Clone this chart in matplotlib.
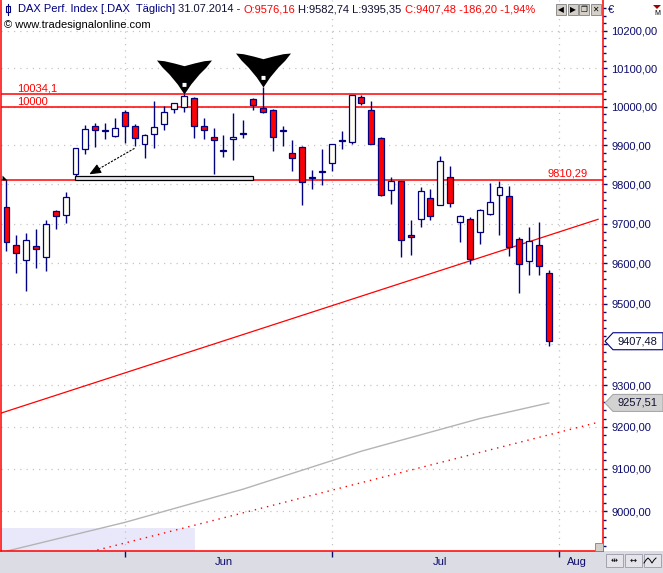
import matplotlib
matplotlib.use('Agg')
import matplotlib.pyplot as plt
import numpy as np
import pandas as pd
from matplotlib.patches import Rectangle, Polygon
from matplotlib.path import Path
from matplotlib.lines import Line2D
from matplotlib.ticker import FixedLocator, FuncFormatter, NullFormatter

W, H = 663, 573

# DAX daily candles, 15.05.2014 - 31.07.2014
dates = pd.bdate_range('2014-05-15', '2014-07-31')
opens = [9742, 9646, 9608, 9643, 9615, 9731, 9721, 9825, 9891, 9949, 9939, 9925, 9985, 9949,
         9903, 9928, 9954, 9993, 9999, 10022, 9949, 9921, 9887, 9916, 9932, 10019, 9997, 9991,
         9940, 9881, 9895, 9818, 9831, 9854, 9913, 9909, 10026, 9991, 9918, 9786, 9808, 9671,
         9711, 9764, 9747, 9818, 9704, 9711, 9680, 9725, 9772, 9770, 9661, 9606, 9646, 9576.16]
highs = [9811, 9671, 9677, 9686, 9709, 9735, 9780, 9893, 9953, 9958, 9958, 9970, 9991, 9955,
         9928, 10015, 10002, 10009, 10034.1, 10025, 9970, 9944, 9926, 9984, 9965, 10022, 10052, 9994,
         9950, 9914, 9898, 9837, 9891, 9903, 9937, 10030, 10031, 10015, 9921, 9819, 9809, 9709,
         9793, 9788, 9873, 9847, 9721, 9716, 9737, 9803, 9809, 9796, 9667, 9692, 9704, 9582.74]
lows = [9630, 9577, 9532, 9588, 9582, 9687, 9702, 9821, 9878, 9896, 9917, 9922, 9907, 9898,
        9866, 9894, 9940, 9984, 9987, 9920, 9917, 9827, 9871, 9861, 9920, 9991, 9983, 9884,
        9898, 9835, 9748, 9789, 9799, 9834, 9890, 9904, 10004, 9903, 9771, 9751, 9617, 9621,
        9692, 9710, 9746, 9743, 9655, 9598, 9648, 9722, 9672, 9619, 9527, 9571, 9571, 9395.35]
closes = [9655, 9627, 9658, 9637, 9698, 9720, 9767, 9892, 9941, 9939, 9937, 9944, 9949, 9918,
          9926, 9947, 9985, 10009, 10027, 9949, 9939, 9914, 9884, 9921, 9930, 10004, 9985, 9921,
          9938, 9867, 9805, 9816, 9833, 9903, 9911, 10030, 10009, 9904, 9772, 9808, 9658, 9666,
          9782, 9719, 9859, 9753, 9719, 9610, 9734, 9754, 9793, 9642, 9598, 9656, 9593, 9407.48]

# 200 day average (grey)
sma_idx = [0, 12, 24, 36, 48, 55]
sma_vals = [8907, 8974, 9052, 9142, 9220, 9257.51]

# horizontal levels
levels = [10034.1, 10000, 9810.29]
level_labels = ['10034,1', '10000', '9810,29']

# trend line and parallel channel (dotted)
trend_idx = [-0.56, 60.0]
trend_vals = [9233, 9711]
channel_idx = [0, 60.0]
channel_vals = [8856, 9211]

top_marks = [18, 26]
tag_vals = [9407.48, 9257.51]
month_names = ['Jun', 'Jul', 'Aug']
month_label_pos = [22, 44, 57.9]

navy = '#000080'
txt_navy = '#0c0c6c'
red = '#ff0000'
ivory = '#fffff0'
plt.rcParams['font.family'] = ['Liberation Sans', 'DejaVu Sans']


def fx(px):
    return px / W


def fy(py):
    return 1 - py / H


fig = plt.figure(figsize=(W / 100, H / 100), dpi=100)
fig.patch.set_facecolor('white')
fig.add_artist(Rectangle((0, 0), 1, 22 / H, transform=fig.transFigure,
                         facecolor='#dcdce4', edgecolor='none', zorder=0))

ax = fig.add_axes([1 / W, 22 / H, 602 / W, 551 / H])
ax.set_yscale('log')
ax.set_xlim(-0.557, 60.5)
ax.set_ylim(8907.4, 10281.7)
ax.set_axisbelow(True)

for s in ['left', 'right', 'bottom']:
    ax.spines[s].set_color(red)
    ax.spines[s].set_linewidth(1.1)
ax.spines['top'].set_visible(False)

# y axis on the right
majors = list(range(9000, 10300, 100))
minors = [v for v in range(8920, 10280, 20) if v % 100 != 0]
ax.yaxis.tick_right()
ax.yaxis.set_major_locator(FixedLocator(majors))
ax.yaxis.set_minor_locator(FixedLocator(minors))
ax.yaxis.set_major_formatter(FuncFormatter(
    lambda v, p: '' if abs(v - 9400) < 1 else f'{v:.2f}'.replace('.', ',')))
ax.yaxis.set_minor_formatter(NullFormatter())
ax.tick_params(axis='y', which='major', length=3, width=1, color=txt_navy,
               labelcolor=txt_navy, labelsize=8, pad=3)
ax.tick_params(axis='y', which='minor', length=2.5, width=1, color=txt_navy)

# x axis: month starts
all_days = pd.bdate_range('2014-05-15', '2014-08-29')
month_starts = [i for i in range(1, len(all_days)) if all_days[i].month != all_days[i - 1].month][:3]
ax.xaxis.set_major_locator(FixedLocator(month_starts))
ax.xaxis.set_major_formatter(NullFormatter())
ax.xaxis.set_minor_locator(FixedLocator(month_label_pos))
ax.xaxis.set_minor_formatter(FuncFormatter(lambda v, p: month_names[p]))
ax.tick_params(axis='x', which='major', length=4, width=1, color=txt_navy)
ax.tick_params(axis='x', which='minor', length=0, labelcolor=txt_navy, labelsize=8, pad=4)

ax.grid(which='major', axis='both', color='#c4c4c4', linestyle=(0, (1, 4)), linewidth=0.9)

# shaded band bottom left
ax.add_patch(Rectangle((-1, 8800), 20.09, 161, facecolor='#e8e8fa', edgecolor='none', zorder=0.5))

# grey average and red lines
ax.plot(sma_idx, sma_vals, color='#b4b4b4', lw=1.0, zorder=1)
ax.plot(trend_idx, trend_vals, color=red, lw=0.9, zorder=1)
ax.plot(channel_idx, channel_vals, color=red, lw=1.0, linestyle=(0, (1, 3.5)), zorder=1)
for lv in levels:
    ax.axhline(lv, color=red, lw=1.1, zorder=1.5)

ax.annotate(level_labels[0], (1.06, levels[0]), va='bottom', ha='left', color=red, fontsize=8)
ax.annotate(level_labels[1], (1.06, levels[1]), va='bottom', ha='left', color=red, fontsize=8)
ax.annotate(level_labels[2], (58.9, levels[2]), xytext=(0, 1), textcoords='offset points',
            va='bottom', ha='right', color=red, fontsize=8)

# candles
idx = np.arange(len(dates))
ax.vlines(idx, lows, highs, color=navy, lw=1.0, zorder=2)
for i in idx:
    o, c = opens[i], closes[i]
    lo = min(o, c)
    ax.add_patch(Rectangle((i - 0.3, lo), 0.6, max(abs(c - o), 1.0),
                           facecolor=red if c < o else ivory, edgecolor=navy, lw=0.9, zorder=3))

# box and arrow
ax.add_patch(Rectangle((6.94, levels[2]), 18.02, 10.7, facecolor='#e6e6f0',
                       edgecolor='black', lw=0.9, zorder=2.5))
ax.plot([12.98, 9.0], [9892, 9834], color='black', lw=0.8, linestyle=(0, (2, 1.2)), zorder=4)
ax.annotate('', xy=(8.15, 9822), xytext=(9.2, 9837),
            arrowprops=dict(arrowstyle='-|>,head_length=0.7,head_width=0.3', color='black', lw=0.8),
            zorder=4)

# small mark at start of the 9810 line
corner = Path([(0, 0), (0, 5), (5, 0), (0, 0)],
              [Path.MOVETO, Path.LINETO, Path.LINETO, Path.CLOSEPOLY])
ax.plot([-0.5], [levels[2]], ls='none', marker=corner, ms=7.2, color='black', mew=0, zorder=4,
        clip_on=False)

# big black markers on the two highs
outer = [(0, 0), (-6.7, 10), (-15, 20), (-21.7, 26.7), (-27.5, 34), (-20, 33.3), (-10, 31),
         (0, 28.3), (10, 31), (20, 33.3), (27.5, 34), (21.7, 26.7), (15, 20), (6.7, 10), (0, 0)]
inner = [(-2, 7.6), (2, 7.6), (2, 11.6), (-2, 11.6), (-2, 7.6)]
codes = ([Path.MOVETO] + [Path.LINETO] * (len(outer) - 2) + [Path.CLOSEPOLY] +
         [Path.MOVETO, Path.LINETO, Path.LINETO, Path.LINETO, Path.CLOSEPOLY])
tri = Path(outer + inner, codes)
ax.plot(top_marks, [highs[i] for i in top_marks], ls='none', marker=tri, ms=2 * 34 * 0.72,
        color='black', mew=0, zorder=5, clip_on=False)

# price tags on the right
for val, face, edge in zip(tag_vals, ['white', '#d2d2d2'], [navy, '#a8a8a8']):
    yc = H - ax.transData.transform((0, val))[1]
    pts = [(605, yc), (613, yc - 8.5), (663, yc - 8.5), (663, yc + 8.5), (613, yc + 8.5)]
    fig.add_artist(Polygon([(fx(x), fy(y)) for x, y in pts], closed=True, transform=fig.transFigure,
                           facecolor=face, edgecolor=edge, lw=0.8, zorder=5))
    fig.text(fx(637), fy(yc), f'{val:.2f}'.replace('.', ','), ha='center', va='center',
             fontsize=8, color='#101030', zorder=6)

# header
renderer = fig.canvas.get_renderer()
parts = [('DAX Perf. Index [.DAX  Täglich]', navy), ('31.07.2014 -', '#101030'),
         ('O:9576,16', red), ('H:9582,74 L:9395,35', '#101030'),
         ('C:9407,48 -186,20 -1,94%', red)]
t1 = fig.text(0, 0, 'a a', fontsize=8)
t2 = fig.text(0, 0, 'aa', fontsize=8)
space_w = t1.get_window_extent(renderer).width - t2.get_window_extent(renderer).width
t1.remove()
t2.remove()
x = 17.5
for s, col in parts:
    t = fig.text(fx(x), fy(9.5), s, color=col, fontsize=8, va='center', ha='left', zorder=6)
    x += t.get_window_extent(renderer).width + space_w
fig.text(fx(3.5), fy(25.5), '© www.tradesignalonline.com', color='black', fontsize=8,
         va='center', ha='left', zorder=6)

# header candle icon
fig.add_artist(Line2D([fx(7.5), fx(7.5)], [fy(4), fy(15)], color=navy, lw=0.8, transform=fig.transFigure))
fig.add_artist(Rectangle((fx(5.5), fy(12)), 4 / W, 6 / H, transform=fig.transFigure,
                         facecolor='white', edgecolor=navy, lw=0.8))

# window buttons top right of the chart
for k, g in enumerate(['◀', '▶', '❐', '✕']):
    x0 = 556 + k * 11.5
    fig.add_artist(Rectangle((fx(x0), fy(15)), 10 / W, 11 / H, transform=fig.transFigure,
                             facecolor='#d4d0c8', edgecolor='#808080', lw=0.6, zorder=6))
    fig.text(fx(x0 + 5), fy(9.5), g, fontsize=5.5, ha='center', va='center', color='black',
             family='DejaVu Sans', zorder=7)
fig.text(fx(611), fy(10), '€', fontsize=8, ha='center', va='center', color=txt_navy)
fig.text(fx(657), fy(13.5), 'M', fontsize=5, ha='center', va='center', color='black')
fig.add_artist(Polygon([(fx(653), fy(5)), (fx(661), fy(5)), (fx(657), fy(9))], closed=True,
                       transform=fig.transFigure, facecolor='#a00000', edgecolor='none'))

# resize grip and bottom buttons
fig.add_artist(Rectangle((fx(595), fy(551)), 8 / W, 8 / H, transform=fig.transFigure,
                         facecolor='#d4d0c8', edgecolor='#808080', lw=0.6, zorder=6))
for k, g in enumerate(['⇹', '↔', '']):
    x0 = 606 + k * 19
    fig.add_artist(Rectangle((fx(x0), fy(567)), 17 / W, 13 / H, transform=fig.transFigure,
                             facecolor='#e4e4ea', edgecolor='#9a9aa8', lw=0.6, zorder=6))
    if g:
        fig.text(fx(x0 + 8.5), fy(560.5), g, fontsize=6, ha='center', va='center', color='black',
                 family='DejaVu Sans', zorder=7)
# small wave symbol on the last button
wx = [644, 646, 648, 650, 652, 654, 656]
wy = [563, 560, 558, 560, 563, 560, 558]
fig.add_artist(Line2D([fx(v) for v in wx], [fy(v) for v in wy], color='black', lw=0.7,
                      transform=fig.transFigure, zorder=7))

fig.savefig('out.png', dpi=100)
